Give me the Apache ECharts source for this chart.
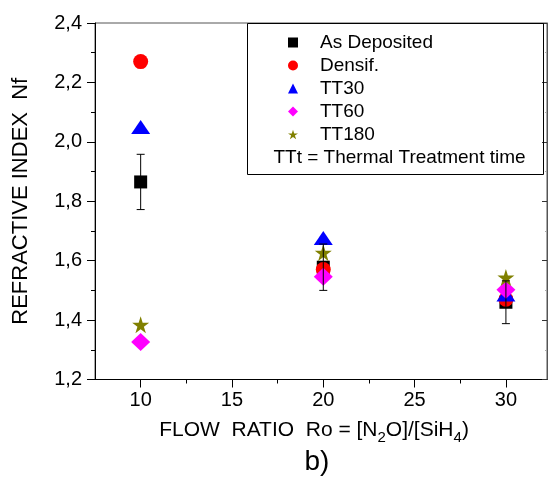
<!DOCTYPE html>
<html><head><meta charset="utf-8">
<script src="https://cdn.jsdelivr.net/npm/echarts@6/dist/echarts.min.js"></script>
<style>html,body{margin:0;padding:0;background:#fff}#c{width:548px;height:477px}</style>
</head><body><div id="c"></div>
<script>
// ---- data ----
const flowRatio = [10, 20, 30];
const asDeposited = [1.865, 1.578, 1.46];
const asDepositedErr = [0.093, 0.078, 0.072];
const densif = [2.27, 1.57, 1.47];
const tt30 = [2.05, 1.676, 1.486];
const tt60 = [1.326, 1.546, 1.502];
const tt180 = [1.384, 1.627, 1.543];
const xTickLabels = [10, 15, 20, 25, 30];
const xMinorTicks = [12.5, 17.5, 22.5, 27.5];
const seriesNames = ['As Deposited', 'Densif.', 'TT30', 'TT60', 'TT180'];
const noteText = 'TTt = Thermal Treatment time';

const FONT = '"Liberation Sans", Arial, sans-serif';
const starPath = 'path://M50 0 L61.17 34.63 L97.55 34.55 L68.07 55.87 L79.39 90.45 L50 69 L20.61 90.45 L31.93 55.87 L2.45 34.55 L38.83 34.63 Z';
function pts(arr) { return flowRatio.map((x, i) => [x, arr[i]]); }

const chart = echarts.init(document.getElementById('c'), null, {renderer: 'canvas'});
const option = {
  animation: false,
  backgroundColor: '#fff',
  textStyle: {fontFamily: FONT},
  grid: {left: 95, top: 23, right: 1, bottom: 97.5, show: true, borderColor: '#555', borderWidth: 1, containLabel: false},
  legend: {
    data: seriesNames,
    orient: 'vertical',
    left: 247, top: 23,
    padding: [8, 0, 0, 41],
    itemWidth: 10, itemHeight: 10, itemGap: 0,
    textStyle: {fontSize: 19, lineHeight: 23, color: '#000', fontFamily: FONT, padding: [0, 0, 0, 17]},
    selectedMode: false
  },
  xAxis: [{
    type: 'value', min: 7.5, max: 32.25, position: 'bottom',
    axisLine: {show: true, onZero: false, lineStyle: {color: '#000', width: 1}},
    axisTick: {show: true, customValues: xTickLabels, length: 8, lineStyle: {color: '#000'}},
    axisLabel: {customValues: xTickLabels, fontSize: 20, color: '#000', margin: 11, fontFamily: FONT},
    splitLine: {show: false},
    name: 'FLOW  RATIO  Ro = [N{sub|2}O]/[SiH{sub|4})',
    nameLocation: 'middle', nameGap: 36,
    nameTextStyle: {
      fontSize: 21, color: '#000', fontFamily: FONT, lineHeight: 30, padding: [0, 14, 0, 0],
      rich: {sub: {fontSize: 15, lineHeight: 15, verticalAlign: 'bottom', color: '#000', fontFamily: FONT}}
    }
  }, {
    type: 'value', min: 7.5, max: 32.25, position: 'bottom',
    axisLine: {show: false, onZero: false},
    axisTick: {show: true, customValues: xMinorTicks, length: 4, lineStyle: {color: '#000'}},
    axisLabel: {show: false},
    splitLine: {show: false}
  }],
  yAxis: [{
    type: 'value', min: 1.2, max: 2.4, interval: 0.2, position: 'left',
    axisLine: {show: true, onZero: false, lineStyle: {color: '#000', width: 1}},
    axisTick: {show: true, length: 8, lineStyle: {color: '#000'}},
    minorTick: {show: true, splitNumber: 2, length: 4, lineStyle: {color: '#000'}},
    axisLabel: {fontSize: 20, color: '#000', margin: 13, fontFamily: FONT,
      formatter: v => v.toFixed(1).replace('.', ',')},
    splitLine: {show: false},
    name: 'REFRACTIVE INDEX  Nf', nameLocation: 'middle', nameGap: 63,
    nameTextStyle: {fontSize: 22, color: '#000', fontFamily: FONT}
  }, {
    type: 'value', min: 1.2, max: 2.4, interval: 0.2, position: 'right',
    axisLine: {show: true, onZero: false, lineStyle: {color: '#555', width: 1}},
    axisTick: {show: true, inside: true, length: 5, lineStyle: {color: '#333'}},
    minorTick: {show: true, splitNumber: 2, length: 2, lineStyle: {color: '#aaa'}},
    axisLabel: {show: false},
    splitLine: {show: false}
  }],
  graphic: [
    {type: 'rect', shape: {x: 247.5, y: 23.5, width: 296, height: 151}, style: {fill: 'none', stroke: '#000', lineWidth: 1}, z: 1},
    {type: 'text', x: 399.5, y: 158, style: {text: noteText, fontSize: 19, fontFamily: FONT, fill: '#000', align: 'center', verticalAlign: 'middle'}},
    {type: 'text', x: 317, y: 462, style: {text: 'b)', fontSize: 28, fontFamily: FONT, fill: '#000', align: 'center', verticalAlign: 'middle'}}
  ],
  series: [
    {name: seriesNames[0], type: 'scatter', symbol: 'rect', symbolSize: 13, itemStyle: {color: '#000000', opacity: 1}, data: pts(asDeposited), z: 2},
    {name: seriesNames[1], type: 'scatter', symbol: 'circle', symbolSize: 15, itemStyle: {color: '#ff0000', opacity: 1}, data: pts(densif), z: 2},
    {name: seriesNames[2], type: 'scatter', symbol: 'triangle', symbolSize: [19, 14], itemStyle: {color: '#0000ff', opacity: 1}, data: pts(tt30), z: 2},
    {name: seriesNames[3], type: 'scatter', symbol: 'diamond', symbolSize: [19, 18], itemStyle: {color: '#ff00ff', opacity: 1}, data: pts(tt60), z: 2},
    {name: seriesNames[4], type: 'scatter', symbol: starPath, symbolSize: [17, 17], itemStyle: {color: '#808000', opacity: 1}, data: pts(tt180), z: 2},
    {
      type: 'custom', z: 10, silent: true,
      encode: {x: 0, y: 1},
      data: flowRatio.map((x, i) => [x, asDeposited[i], asDepositedErr[i]]),
      renderItem: function (params, api) {
        const x = api.value(0), y = api.value(1), e = api.value(2);
        const top = api.coord([x, y + e]);
        const bot = api.coord([x, y - e]);
        const hw = 4;
        const st = {stroke: '#000', lineWidth: 1};
        return {type: 'group', children: [
          {type: 'line', shape: {x1: top[0], y1: top[1], x2: bot[0], y2: bot[1]}, style: st},
          {type: 'line', shape: {x1: top[0] - hw, y1: top[1], x2: top[0] + hw, y2: top[1]}, style: st},
          {type: 'line', shape: {x1: bot[0] - hw, y1: bot[1], x2: bot[0] + hw, y2: bot[1]}, style: st}
        ]};
      }
    }
  ]
};
chart.setOption(option);
</script>
</body></html>
